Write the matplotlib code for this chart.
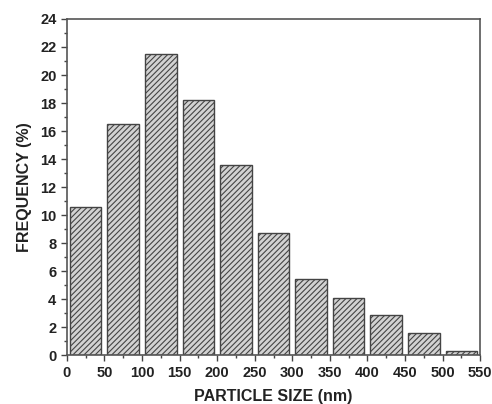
import matplotlib
matplotlib.use('Agg')
from matplotlib import pyplot as plt
from matplotlib import ticker

# Histogram bins (nm) and frequency (%)
bin_starts = [0, 50, 100, 150, 200, 250, 300, 350, 400, 450, 500]
bin_width = 50
frequency = [10.6, 16.5, 21.5, 18.2, 13.6, 8.7, 5.4, 4.1, 2.9, 1.6, 0.3]

plt.rcParams['font.family'] = ['Liberation Sans', 'DejaVu Sans']
plt.rcParams['font.weight'] = 'bold'
plt.rcParams['hatch.color'] = '#666666'
plt.rcParams['hatch.linewidth'] = 0.8

fig = plt.figure(figsize=(4.92, 4.04), dpi=100)
ax = fig.add_axes([0.136, 0.121, 0.84, 0.832])

centers = [s + bin_width / 2 for s in bin_starts]
ax.bar(centers, frequency, width=bin_width * 0.84, color='#d2d2d2',
       edgecolor='#444444', linewidth=1.0, hatch='//////')

ax.set_xlim(0, 550)
ax.set_ylim(0, 24)
ax.xaxis.set_major_locator(ticker.MultipleLocator(50))
ax.xaxis.set_minor_locator(ticker.MultipleLocator(25))
ax.yaxis.set_major_locator(ticker.MultipleLocator(2))
ax.yaxis.set_minor_locator(ticker.MultipleLocator(1))
ax.tick_params(which='major', direction='out', length=4, width=1.0,
               labelsize=10.5, color='#444444', labelcolor='#222222')
ax.tick_params(which='minor', direction='out', length=2.5, width=1.0,
               color='#444444')
for s in ax.spines.values():
    s.set_color('#555555')
    s.set_linewidth(1.2)

ax.set_xlabel('PARTICLE SIZE (nm)', fontsize=11.5, fontweight='bold',
              labelpad=7, color='#222222')
ax.set_ylabel('FREQUENCY (%)', fontsize=11.5, fontweight='bold',
              labelpad=6, color='#222222')

fig.savefig('out.png', dpi=100)
